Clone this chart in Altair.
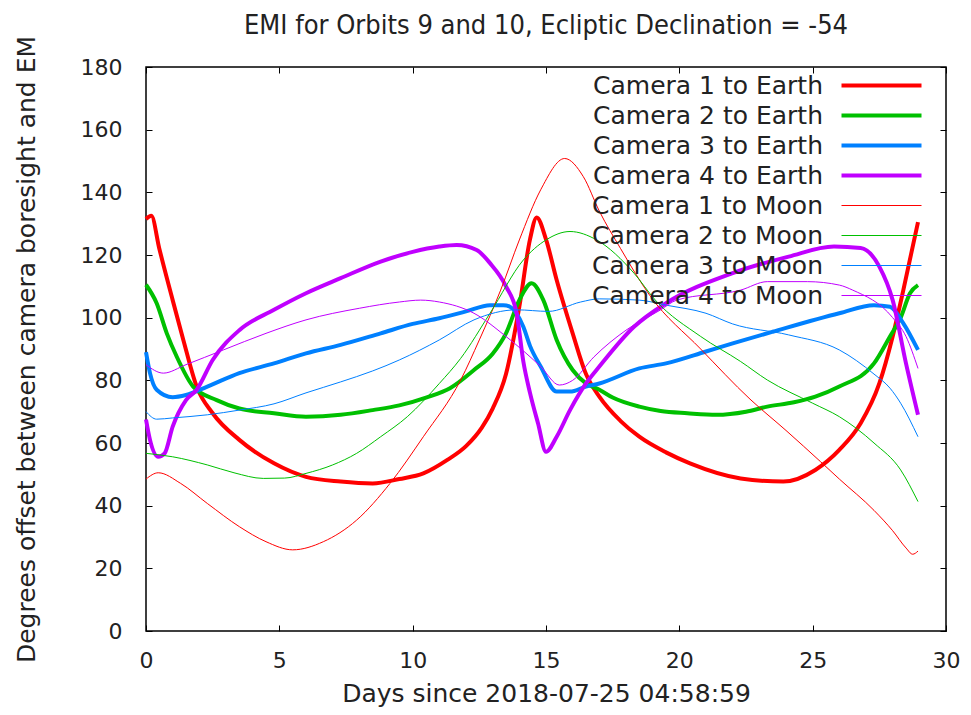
import altair as alt
import pandas as pd

names = ["Camera 1 to Earth", "Camera 2 to Earth", "Camera 3 to Earth", "Camera 4 to Earth",
         "Camera 1 to Moon", "Camera 2 to Moon", "Camera 3 to Moon", "Camera 4 to Moon"]
colors = ["#ff0000", "#00c000", "#0080ff", "#c000ff", "#ff0000", "#00c000", "#0080ff", "#c000ff"]
widths = [4, 4, 4, 4, 1, 1, 1, 1]

days_c1e = [0, 0.2, 0.5, 1.0, 1.4, 1.9, 2.5, 3.5, 4.8, 6.0, 7.3, 8.5, 9.5, 10.4, 11.3, 12.0, 12.6, 13.0,
            13.5, 14.0, 14.4, 14.65, 15.0, 15.4, 16.0, 16.5, 17.0, 17.8, 18.5, 19.5, 20.4, 22.3, 23.9,
            25.1, 26.0, 26.8, 27.5, 28.0, 28.4, 28.95]
vals_c1e = [131.5, 132.5, 122, 105.6, 92.9, 78, 69.5, 61, 53.5, 49.2, 47.7, 47.1, 48.5, 50.3, 54.6, 59,
            65, 71, 82, 103.5, 125, 132, 125, 112, 95, 82, 74.8, 67, 62, 57, 53.5, 48.7, 47.7,
            51.4, 57.8, 66.3, 79, 94, 108.8, 130.5]

days_c2e = [0, 0.4, 0.78, 1.15, 1.77, 2.65, 3.5, 4.8, 6.0, 7.3, 8.5, 9.5, 10.5, 11.4, 12.3, 13.0, 13.5,
            14.0, 14.46, 14.9, 15.4, 16.0, 16.5, 17.0, 17.5, 18.5, 19.3, 20.3, 21.4, 22.5, 23.3, 24.3,
            25.1, 26.0, 27.3, 27.9, 28.3, 28.65, 28.95]
vals_c2e = [110.5, 104.6, 95, 87.6, 78, 73.7, 71, 69.5, 68.4, 69, 70.5, 72, 74.5, 77.5, 83.3, 88.5, 95,
            105.6, 111, 105.6, 92.9, 83.3, 79, 77, 74.5, 71.6, 70.2, 69.5, 69, 70, 71.6, 73,
            74.8, 78, 85.4, 94, 100, 107.8, 110.4]

days_c3e = [0, 0.15, 0.4, 1.0, 1.5, 2.3, 3.5, 4.8, 6.0, 7.3, 8.8, 10.0, 11.0, 12.0, 12.9, 13.4, 13.65,
            14.15, 14.4, 14.8, 15.4, 15.9, 16.5, 17.0, 18.5, 19.5, 21.0, 22.0, 23.5, 26.0, 27.3, 27.9,
            28.4, 28.95]
vals_c3e = [89, 82.3, 77, 74.6, 75.3, 78, 82.3, 85.4, 88.6, 91.3, 95, 98, 99.8, 102, 104, 104, 103.5,
            97.1, 91, 84.4, 76.4, 76.4, 78, 79, 83.8, 85.4, 89.2, 91.8, 95.5, 101.4, 104, 103.5,
            98.2, 89.7]

days_c4e = [0, 0.15, 0.46, 0.7, 1.0, 1.5, 1.9, 2.5, 3.5, 4.8, 6.0, 7.3, 8.8, 10.0, 11.0, 11.65, 12.4,
            12.9, 13.5, 13.9, 14.15, 14.4, 14.7, 15.0, 15.4, 15.9, 16.5, 17.0, 18.3, 19.5, 22.0, 24.1,
            25.8, 26.8, 27.5, 28.0, 28.5, 28.95]
vals_c4e = [67.5, 61, 55.6, 56.7, 65.2, 73.7, 77, 86.5, 96, 102.5, 107.8, 112.6, 117.9, 121, 122.7,
            123.2, 121.6, 117.4, 110, 101.4, 86, 76, 66.3, 57.2, 62, 70.5, 79, 84.4, 97.1, 104.6,
            114.2, 119.5, 122.7, 122.2, 116.3, 105.6, 85.4, 69]

days_c1m = [0, 0.46, 1.3, 2.3, 3.5, 4.5, 5.5, 6.65, 7.9, 9.15, 10.4, 11.8, 12.5, 13.3, 14.0, 14.8, 15.7,
            16.4, 17.0, 17.8, 18.9, 20.8, 22.65, 24.0, 25.3, 26.0, 27.3, 28.0, 28.5, 28.75, 28.95]
vals_c1m = [48.5, 50.5, 47.1, 40.7, 33.3, 28.5, 25.9, 28.5, 35.4, 47.1, 62, 80.1, 92.9, 108.8, 124.8,
            140.8, 150.8, 145, 134, 122, 107, 90, 74, 64, 54, 48.5, 38.5, 32, 26.5, 24.5, 25.5]

days_c2m = [0, 1.0, 2.3, 3.3, 4.4, 5.2, 6.0, 7.0, 7.9, 8.8, 9.8, 11.0, 11.8, 12.9, 14.15, 15.0, 15.9,
            16.9, 18.3, 19.1, 20.8, 22.3, 23.3, 25.0, 26.0, 27.3, 28.3, 28.95]
vals_c2m = [56.7, 55.6, 53, 50.5, 48.7, 48.8, 50.3, 53, 56.7, 62, 68.4, 79, 87, 101.4, 118.4, 124.8,
            127.5, 124.8, 114.2, 105.6, 94, 86, 80.1, 72.7, 68.4, 60, 51.4, 41.3]

days_c3m = [0, 0.4, 1.0, 2.3, 3.5, 4.8, 6.0, 7.3, 8.5, 9.5, 11.0, 12.3, 13.9, 15.1, 16.3, 17.0, 18.5,
            19.5, 21.0, 22.0, 24.1, 26.0, 27.3, 27.9, 28.3, 28.95]
vals_c3m = [70, 67.6, 68, 69, 70.5, 72.5, 76, 79.5, 83, 86.5, 92.9, 99.3, 102.5, 102, 105, 106, 105.6,
            104, 101.4, 98, 94.5, 89.7, 82, 77.5, 72.7, 62]

days_c4m = [0, 0.65, 1.5, 2.9, 4.5, 6.0, 8.0, 9.5, 10.3, 11.0, 12.3, 13.5, 14.8, 15.5, 16.0, 16.8, 18.0,
            19.3, 19.9, 22.3, 23.3, 24.8, 26.0, 26.5, 28.0, 28.5, 28.95]
vals_c4m = [85, 82.3, 85, 89.7, 95, 99.3, 103, 105, 105.6, 105, 101.4, 94, 84.4, 78.5, 80, 87.5, 96,
            102.5, 105.6, 108.8, 111.5, 111.5, 110.4, 108.8, 100, 94, 83.8]

x_ticks = [0, 5, 10, 15, 20, 25, 30]
y_ticks = [0, 20, 40, 60, 80, 100, 120, 140, 160, 180]

all_days = [days_c1e, days_c2e, days_c3e, days_c4e, days_c1m, days_c2m, days_c3m, days_c4m]
all_vals = [vals_c1e, vals_c2e, vals_c3e, vals_c4e, vals_c1m, vals_c2m, vals_c3m, vals_c4m]

rows = []
for name, ds, vs in zip(names, all_days, all_vals):
    for j, (d, v) in enumerate(zip(ds, vs)):
        rows.append({"series": name, "day": d, "value": v, "idx": j})
df = pd.DataFrame(rows)

TXT = "#222222"
FONT = "DejaVu Sans"

legend = alt.Legend(
    title=None, orient="none", legendX=648, legendY=6,
    symbolType="M4.375,0H14.375", symbolSize=256, symbolFillColor="transparent",
    labelAlign="right", labelOffset=4, labelFont=FONT, labelFontSize=25,
    labelColor=TXT, labelLimit=500, rowPadding=4, padding=0,
)

base = alt.Chart(df)

lines = base.mark_line(interpolate="monotone").encode(
    x=alt.X("day:Q", scale=alt.Scale(domain=[0, 30], nice=False, zero=False),
            axis=alt.Axis(orient="bottom", offset=-6, tickSize=6, values=x_ticks, domain=False,
                          grid=False, labelPadding=19, labelFlush=False,
                          title="Days since 2018-07-25 04:58:59", titlePadding=10)),
    y=alt.Y("value:Q", scale=alt.Scale(domain=[0, 180], nice=False),
            axis=alt.Axis(orient="left", offset=-6, tickSize=6, values=y_ticks, domain=False,
                          grid=False, labelPadding=24, labelFlush=False,
                          title="Degrees offset between camera boresight and EM", titlePadding=41)),
    color=alt.Color("series:N", scale=alt.Scale(domain=names, range=colors), legend=legend),
    strokeWidth=alt.StrokeWidth("series:N", scale=alt.Scale(type="ordinal", domain=names, range=widths),
                                legend=legend),
    order=alt.Order("idx:Q"),
)

mirror = base.mark_line(strokeOpacity=0).encode(
    x=alt.X("day:Q", axis=alt.Axis(orient="top", offset=-6, tickSize=6, values=x_ticks, labels=False,
                                   domain=False, grid=False, title=None)),
    y=alt.Y("value:Q", axis=alt.Axis(orient="right", offset=-6, tickSize=6, values=y_ticks, labels=False,
                                     domain=False, grid=False, title=None)),
    detail="series:N",
    order=alt.Order("idx:Q"),
)

chart = alt.layer(lines, mirror).resolve_axis(x="independent", y="independent").properties(
    width=800, height=564,
    autosize=alt.AutoSizeParams(type="none"),
    padding={"left": 138, "top": 59, "right": 17, "bottom": 76},
    title=alt.TitleParams("EMI for Orbits 9 and 10, Ecliptic Declination = -54",
                          font="DejaVu Sans Condensed, Liberation Sans Narrow, DejaVu Sans",
                          fontSize=27, fontWeight="normal", color=TXT, anchor="middle",
                          baseline="alphabetic", frame="group", offset=-26),
).configure_view(stroke="black", strokeWidth=1.5).configure_axis(
    tickColor="black", tickWidth=1, labelFont=FONT, labelFontSize=22, labelColor=TXT,
    titleFont=FONT, titleFontSize=25, titleFontWeight="normal", titleColor=TXT,
)

chart.save("out.html", embed_options={"renderer": "svg", "actions": False})
